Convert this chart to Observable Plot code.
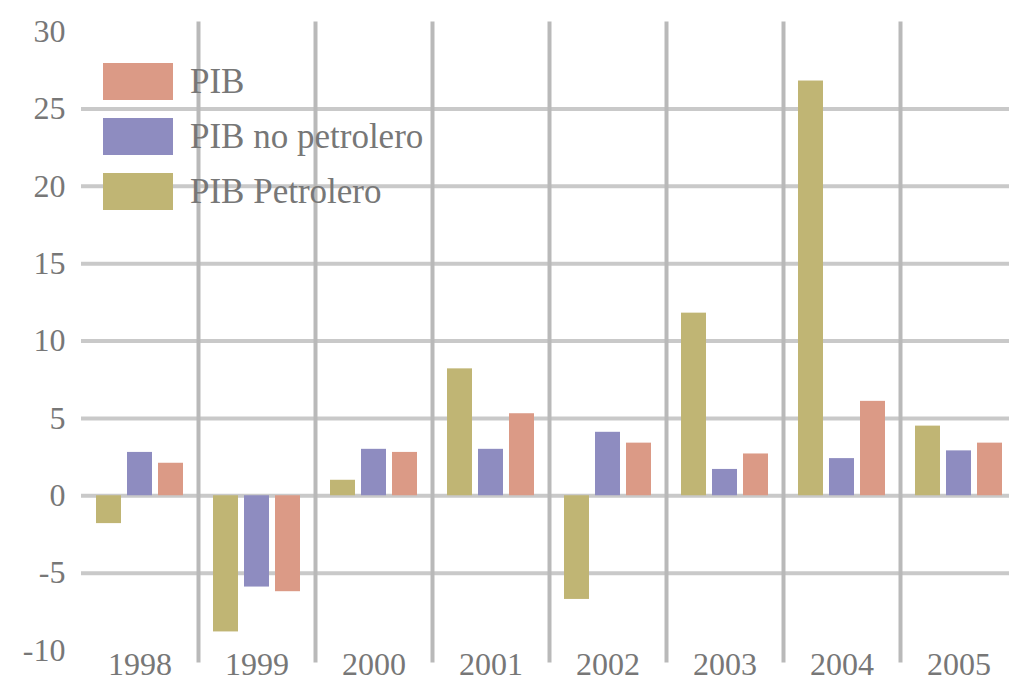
<!DOCTYPE html>
<html>
<head>
<meta charset="utf-8">
<script src="https://cdn.jsdelivr.net/npm/d3@7"></script>
<script src="https://cdn.jsdelivr.net/npm/@observablehq/plot@0.6"></script>
<style>
  html, body { margin: 0; padding: 0; background: #fff; }
  #wrap { position: relative; width: 1009px; height: 686px; overflow: hidden; }
  #legend { position: absolute; left: 103px; top: 63px; font-family: "Liberation Serif", serif; font-size: 35px; color: #777; }
  .row { display: flex; align-items: center; height: 37px; margin-bottom: 18px; }
  .sw { width: 70px; height: 37px; margin-right: 17px; }
</style>
</head>
<body>
<div id="wrap"></div>
<script>
const years = ["1998", "1999", "2000", "2001", "2002", "2003", "2004", "2005"];
const series = ["PIB Petrolero", "PIB no petrolero", "PIB"];
const legendOrder = ["PIB", "PIB no petrolero", "PIB Petrolero"];
const colors = ["#c0b574", "#8e8cc0", "#db9a86"];
const pibPetrolero = [-1.8, -8.8, 1.0, 8.2, -6.7, 11.8, 26.8, 4.5];
const pibNoPetrolero = [2.8, -5.9, 3.0, 3.0, 4.1, 1.7, 2.4, 2.9];
const pib = [2.1, -6.2, 2.8, 5.3, 3.4, 2.7, 6.1, 3.4];
const yTicks = [-10, -5, 0, 5, 10, 15, 20, 25, 30];
const gridValues = [-5, 0, 5, 10, 15, 20, 25];

const seriesValues = [pibPetrolero, pibNoPetrolero, pib];
const data = [];
years.forEach((yr, i) => {
  series.forEach((s, j) => data.push({year: yr, series: s, value: seriesValues[j][i]}));
});

const chart = Plot.plot({
  width: 1009,
  height: 686,
  marginLeft: 78,
  marginRight: 0,
  marginTop: 31,
  marginBottom: 36,
  style: {fontFamily: "'Liberation Serif', serif", fontSize: "32px", color: "#777", background: "white"},
  fx: {domain: years, range: [78, 1020], padding: 0, label: null, axis: "bottom", tickSize: 0, tickPadding: 2},
  x: {domain: series, paddingInner: 0.19, paddingOuter: 0.43, axis: null},
  y: {domain: [-10, 30], ticks: yTicks, tickSize: 0, tickPadding: 16, label: null, tickFormat: d => String(d)},
  color: {domain: series, range: colors},
  marks: [
    Plot.ruleY(gridValues, {stroke: "#c9c9c9", strokeWidth: 4}),
    Plot.frame({anchor: "right", stroke: "#b9b9b9", strokeWidth: 4, insetTop: -8, insetBottom: -10}),
    Plot.barY(data, {fx: "year", x: "series", y: "value", fill: "series"})
  ]
});

const wrap = document.getElementById("wrap");
wrap.appendChild(chart);

const legend = document.createElement("div");
legend.id = "legend";
legendOrder.forEach(name => {
  const row = document.createElement("div");
  row.className = "row";
  const sw = document.createElement("div");
  sw.className = "sw";
  sw.style.background = colors[series.indexOf(name)];
  const label = document.createElement("span");
  label.textContent = name;
  row.appendChild(sw);
  row.appendChild(label);
  legend.appendChild(row);
});
wrap.appendChild(legend);
</script>
</body>
</html>
